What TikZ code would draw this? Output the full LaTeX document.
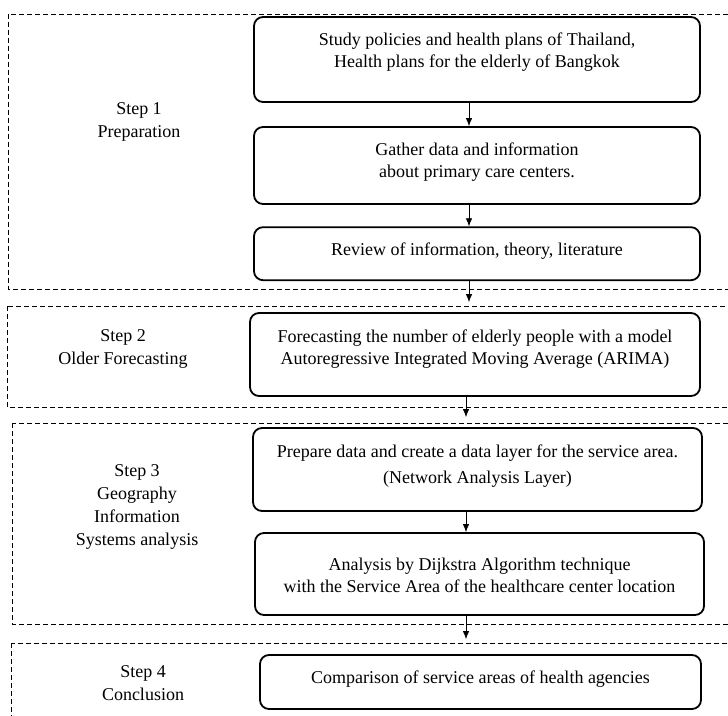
\documentclass[tikz,border=0pt]{standalone}
\usepackage{fontspec}
\setmainfont{Liberation Serif}
\usetikzlibrary{arrows.meta}
\tikzset{>={Latex[length=8pt,width=6.5pt]}}
\tikzset{
  flowbox/.style={draw, line width=1.8pt, rounded corners=9pt, inner sep=0pt},
  boxtext/.style={align=center, font=\fontsize{18}{22}\selectfont},
  steplabel/.style={align=center, font=\fontsize{18}{23}\selectfont},
  phase/.style={dash pattern=on 5pt off 3pt, line width=0.9pt},
  flow/.style={->, line width=0.8pt}
}

\begin{document}
\begin{tikzpicture}[x=1pt, y=-1pt]
  \useasboundingbox (0,0) rectangle (728,715);
  \clip (0,0) rectangle (728,715);
  \draw[phase] (8,14) rectangle (745,289);
  \draw[phase] (7,306) rectangle (745,407);
  \draw[phase] (12,423) rectangle (745,624);
  \draw[phase] (11,643) rectangle (745,735);

  \node[steplabel] (step1) at (139,121.5) {Step 1\\Preparation};
  \node[steplabel] (step2) at (123,348.5) {Step 2\\Older Forecasting};
  \node[steplabel] (step3) at (137,507) {Step 3\\Geography\\Information\\Systems analysis};
  \node[steplabel] (step4) at (143,683) {Step 4\\Conclusion};

  \node[flowbox, minimum width=446pt, minimum height=85pt] (policy) at (477,59.5) {};
  \node[boxtext] (policytext) at ([yshift=7pt]policy.center) {Study policies and health plans of Thailand,\\Health plans for the elderly of Bangkok};
  \node[flowbox, minimum width=446pt, minimum height=77pt] (gather) at (477,165.5) {};
  \node[boxtext] (gathertext) at ([yshift=3pt]gather.center) {Gather data and information\\about primary care centers.};
  \node[flowbox, minimum width=446pt, minimum height=53pt] (review) at (477,253.7) {};
  \node[boxtext] (reviewtext) at ([yshift=3pt]review.center) {Review of information, theory, literature};
  \node[flowbox, minimum width=450pt, minimum height=83pt] (arima) at (475,354.5) {};
  \node[boxtext] (arimatext) at ([yshift=5pt]arima.center) {Forecasting the number of elderly people with a model\\Autoregressive Integrated Moving Average (ARIMA)};
  \node[flowbox, minimum width=449pt, minimum height=83pt] (layer) at (477.5,469.5) {};
  \node[boxtext, font=\fontsize{18}{26}\selectfont] (layertext) at ([yshift=3.5pt]layer.center) {Prepare data and create a data layer for the service area.\\(Network Analysis Layer)};
  \node[flowbox, minimum width=449pt, minimum height=82pt] (dijkstra) at (479.5,574) {};
  \node[boxtext] (dijkstratext) at ([yshift=-1pt]dijkstra.center) {Analysis by Dijkstra Algorithm technique\\with the Service Area of the healthcare center location};
  \node[flowbox, minimum width=441pt, minimum height=54pt] (compare) at (480.5,682) {};
  \node[boxtext] (comparetext) at ([yshift=3pt]compare.center) {Comparison of service areas of health agencies};

  \draw[flow] ([xshift=-8pt]policy.south) -- ([xshift=-8pt]policy.south |- gather.north);
  \draw[flow] ([xshift=-8pt]gather.south) -- ([xshift=-8pt]gather.south |- review.north);
  \draw[flow, shorten >=10pt] ([xshift=-8pt]review.south) -- ([xshift=-8pt]review.south |- arima.north);
  \draw[flow, shorten >=10pt] ([xshift=-9pt]arima.south) -- ([xshift=-9pt]arima.south |- layer.north);
  \draw[flow] ([xshift=-11.5pt]layer.south) -- ([xshift=-11.5pt]layer.south |- dijkstra.north);
  \draw[flow, shorten >=15pt] ([xshift=-13.5pt]dijkstra.south) -- ([xshift=-13.5pt]dijkstra.south |- compare.north);
\end{tikzpicture}
\end{document}
